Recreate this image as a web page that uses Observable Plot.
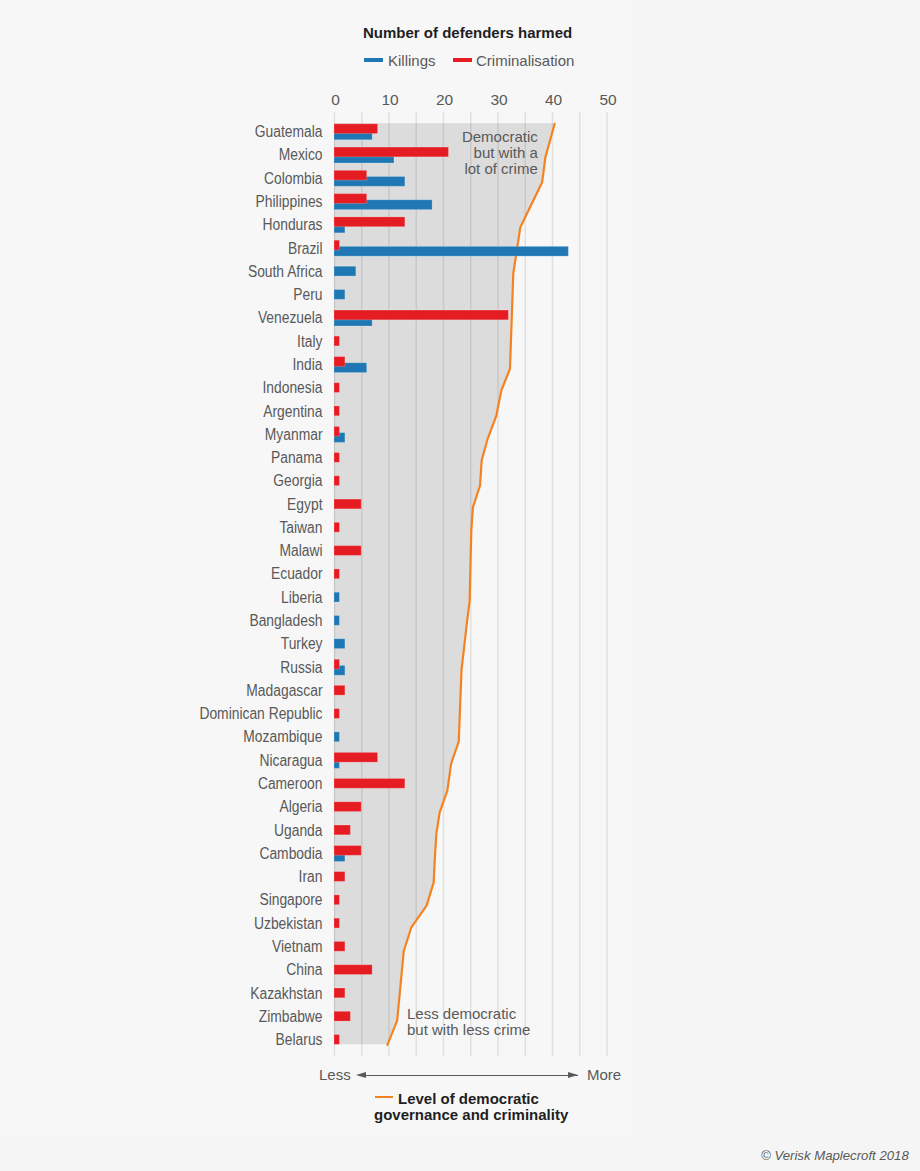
<!DOCTYPE html>
<html><head><meta charset="utf-8">
<script src="https://cdn.jsdelivr.net/npm/d3@7"></script>
<script src="https://cdn.jsdelivr.net/npm/@observablehq/plot@0.6"></script>
<style>
html,body{margin:0;padding:0;background:#f5f5f5;font-family:"Liberation Sans",Arial,sans-serif;}
#page{position:relative;width:920px;height:1171px;overflow:hidden;}
#panel{position:absolute;left:0;top:0;width:632px;height:1137px;background:#f7f7f7;}
.t{position:absolute;white-space:nowrap;color:#595959;font-size:15px;line-height:16px;}
.b{font-weight:bold;color:#1f1f1f;font-size:15px;}
.s{position:absolute;}
#chart{position:absolute;left:0;top:85px;}
</style></head><body>
<div id="page"><div id="panel"></div><div id="chart"></div></div>
<script>
const countries = ["Guatemala","Mexico","Colombia","Philippines","Honduras","Brazil","South Africa","Peru","Venezuela","Italy","India","Indonesia","Argentina","Myanmar","Panama","Georgia","Egypt","Taiwan","Malawi","Ecuador","Liberia","Bangladesh","Turkey","Russia","Madagascar","Dominican Republic","Mozambique","Nicaragua","Cameroon","Algeria","Uganda","Cambodia","Iran","Singapore","Uzbekistan","Vietnam","China","Kazakhstan","Zimbabwe","Belarus"];
const killings =       [7,11,13,18,2,43,4,2,7,0,6,0,0,2,0,0,0,0,0,0,1,1,2,2,0,0,1,1,0,0,0,2,0,0,0,0,0,0,0,0];
const criminalisation = [8,21,6,6,13,1,0,0,32,1,2,1,1,1,1,1,5,1,5,1,0,0,0,1,2,1,0,8,13,5,3,5,2,1,1,2,7,2,3,1];
const lineRows =   [-0.33,1.10,2.18,4.11,6.11,10.19,11.13,12.20,13.20,14.13,15.21,16.14,17.14,20.15,21.29,23.15,26.20,27.15,28.31,29.24,30.15,31.23,32.25,33.25,34.18,35.21,38.19,39.23];
const lineValues = [40.4,38.7,38.1,34.1,32.8,32.2,30.6,29.7,28.1,27.0,26.7,25.4,25.1,24.8,24.2,23.3,22.8,21.4,20.7,19.3,18.7,18.4,18.2,16.9,14.1,12.7,11.5,9.7];
const xGrid = [0,5,10,15,20,25,30,35,40,45,50];
const xTicks = [0,10,20,30,40,50];

const rows = countries.map((c,i)=>({c,i,k:killings[i],r:criminalisation[i],both:killings[i]>0&&criminalisation[i]>0}));
const line = lineRows.map((y,i)=>({y,x:lineValues[i]}));
const halfBar = 0.21;
const blueC = d => d.i + (d.both ? 0.165 : 0.02);
const redC = d => d.i + (d.both ? -0.10 : 0.02);
const grey = "#595959";
const bodyFont = '"Liberation Sans",Arial,sans-serif';

const plot = Plot.plot({
  width: 920, height: 976,
  marginLeft: 334, marginRight: 313.5, marginTop: 27, marginBottom: 5,
  style: {background:"transparent", fontFamily: bodyFont},
  x: {domain:[0,50], axis:null},
  y: {domain:[39.73,-0.816], axis:null},
  marks: [
    Plot.areaX(line,{y:"y",x1:0,x2:"x",fill:"#dcdcdc",curve:"linear"}),
    Plot.ruleX(xGrid,{y1:-0.816,y2:39.73,stroke:"#000",strokeOpacity:0.09,strokeWidth:1.5}),
    Plot.lineX(line,{x:"x",y:"y",stroke:"#f58220",strokeWidth:2.2,curve:"linear"}),
    Plot.rectX(rows.filter(d=>d.k>0),{x1:0,x2:"k",y1:d=>blueC(d)-halfBar,y2:d=>blueC(d)+halfBar,fill:"#1f78b4",stroke:"#fff",strokeOpacity:0.2,strokeWidth:1}),
    Plot.rectX(rows.filter(d=>d.r>0),{x1:0,x2:"r",y1:d=>redC(d)-halfBar,y2:d=>redC(d)+halfBar,fill:"#e61c23",stroke:"#fff",strokeOpacity:0.2,strokeWidth:1}),
    Plot.axisX({anchor:"top",ticks:xTicks,tickSize:0,tickPadding:8,dx:1,label:null,fontSize:15.5,fill:grey}),
    Plot.axisY({anchor:"left",ticks:d3.range(countries.length),tickFormat:i=>countries[i],tickSize:0,tickPadding:12,dy:0.5,label:null,fontSize:16,fill:grey}),
    Plot.text(["Democratic\nbut with a\nlot of crime"],{x:37.3,y:0.92,text:d=>d,textAnchor:"end",fontSize:15,lineHeight:1.07,fill:grey}),
    Plot.text(["Less democratic\nbut with less crime"],{x:13.3,y:38.23,text:d=>d,textAnchor:"start",fontSize:15,lineHeight:1.07,fill:grey})
  ]
});
document.getElementById("chart").appendChild(plot);
// the reference's category labels are horizontally condensed
const names = new Set(countries);
plot.querySelectorAll("text").forEach(t=>{
  if(!names.has(t.textContent)) return;
  const w=t.getComputedTextLength();
  t.setAttribute("textLength",(w*0.865).toFixed(1));
  t.setAttribute("lengthAdjust","spacingAndGlyphs");
});

const page = document.getElementById("page");
function label(txt,left,top,cls,extra){
  const e=document.createElement("div");e.className="t "+(cls||"");e.innerHTML=txt;
  e.style.left=left+"px";e.style.top=top+"px";if(extra)Object.assign(e.style,extra);page.appendChild(e);return e;
}
function swatch(left,top,w,h,color){
  const e=document.createElement("div");e.className="s";
  Object.assign(e.style,{left:left+"px",top:top+"px",width:w+"px",height:h+"px",background:color});page.appendChild(e);
}
label("Number of defenders harmed",363,25,"b");
swatch(364,58,19,4,"#1f78b4");
label("Killings",388,53);
swatch(453,58,19,4,"#e61c23");
label("Criminalisation",476,53);
label("Less",319,1067);
label("More",587,1067);
swatch(362,1074.5,216,1,"#595959");
const tri=(left,dir)=>{const e=document.createElement("div");e.className="s";
  Object.assign(e.style,{left:left+"px",top:"1071.5px",width:0,height:0,borderTop:"3.5px solid transparent",borderBottom:"3.5px solid transparent",[dir==="l"?"borderRight":"borderLeft"]:"10px solid #595959"});page.appendChild(e);};
tri(356,"l");tri(568,"r");
swatch(375,1096,18,2,"#f58220");
label("Level of democratic",398,1091,"b");
label("governance and criminality",374,1107,"b");
label("© Verisk Maplecroft 2018",761,1148,"",{fontStyle:"italic",fontSize:"13.2px"});
</script>
</body></html>
